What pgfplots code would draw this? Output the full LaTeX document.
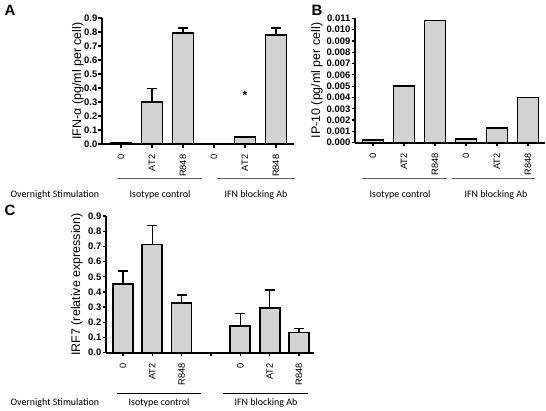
\documentclass[border=0pt]{standalone}
\usepackage{fontspec}
\setmainfont{Liberation Sans}
\newfontfamily\calfont{Carlito}
\usepackage{pgfplots}
\pgfplotsset{compat=1.18}
\definecolor{barfill}{RGB}{210,210,210}
\definecolor{grpline}{RGB}{100,100,100}
\pgfplotsset{
  panel/.style={
    scale only axis, anchor=south west,
    axis x line*=bottom, axis y line*=left,
    axis line style={line width=1.6bp, black},
    every tick/.style={black, line width=1.3bp},
    major tick length=3.5bp,
    tick align=outside,
    ymin=0,
    /pgf/number format/assume math mode=true,
    yticklabel style={font=\bfseries\fontsize{9.5}{10}\selectfont, inner sep=1bp},
    xticklabel style={rotate=90, anchor=east, font=\fontsize{9.3}{10}\selectfont, inner ysep=1bp, inner xsep=7bp},
    ylabel style={font=\fontsize{12.5}{13}\selectfont, anchor=center},
    scaled y ticks=false,
    clip=false,
  },
  barstyle/.style={
    ybar, bar shift=0pt, fill=barfill, draw=black, line width=1.7bp,
    error bars/y dir=plus, error bars/y explicit,
    error bars/error bar style={line width=1.5bp, black},
    error bars/error mark options={rotate=90, mark size=5bp, line width=1.5bp, black},
  },
}
\pgfplotstableread{
x y e
0 0.005 0
1 0.300 0.098
2 0.795 0.035
3 0.003 0
4 0.048 0
5 0.778 0.052
}\dataA
\pgfplotstableread{
x y
0 0.00024
1 0.0050
2 0.0108
3 0.00035
4 0.0013
5 0.0040
}\dataB
\pgfplotstableread{
x y e
0 0.452 0.086
1 0.713 0.125
2 0.329 0.051
4 0.176 0.081
5 0.296 0.117
6 0.134 0.024
}\dataC
\begin{document}
\begin{tikzpicture}
\path[use as bounding box] (0,0) rectangle (546bp,-411bp);
% Panel A
\begin{axis}[panel, at={(102bp,-144bp)}, width=192bp, height=126bp,
  xmin=-0.61, xmax=5.58, ymax=0.9, ytick={0,0.1,...,0.9},
  yticklabel style={/pgf/number format/fixed, /pgf/number format/fixed zerofill, /pgf/number format/precision=1},
  xtick={0,...,5}, xticklabels={0,AT2,R848,0,AT2,R848},
  ylabel={IFN-α (pg/ml per cell)},
  ylabel style={at={(axis description cs:-0.125,0.5)}}]
\addplot[bar width=21bp, barstyle] table[x=x, y=y, y error=e] {\dataA};
\node[font=\bfseries\fontsize{12}{12}\selectfont] at (axis cs:4,0.35) {*};
\end{axis}
% Panel B
\begin{axis}[panel, at={(355bp,-142.7bp)}, width=190bp, height=124.4bp,
  xmin=-0.58, xmax=5.55, ymax=0.011, ytick={0,0.001,...,0.0111},
  yticklabel style={/pgf/number format/fixed, /pgf/number format/fixed zerofill, /pgf/number format/precision=3},
  xtick={0,...,5}, xticklabels={0,AT2,R848,0,AT2,R848},
  ylabel={IP-10 (pg/ml per cell)},
  ylabel style={at={(axis description cs:-0.2,0.5)}}]
\addplot[ybar, bar shift=0pt, fill=barfill, draw=black, line width=1.7bp, bar width=21bp] table[x=x, y=y] {\dataB};
\end{axis}
% Panel C
\begin{axis}[panel, at={(106bp,-352.7bp)}, width=208bp, height=136.7bp,
  xmin=-0.576, xmax=6.51, ymax=0.9, ytick={0,0.1,...,0.9},
  yticklabel style={/pgf/number format/fixed, /pgf/number format/fixed zerofill, /pgf/number format/precision=1},
  xtick={0,...,6}, xticklabels={0,AT2,R848,,0,AT2,R848},
  ylabel={IRF7 (relative expression)},
  ylabel style={at={(axis description cs:-0.14,0.5)}}]
\addplot[bar width=20bp, barstyle] table[x=x, y=y, y error=e] {\dataC};
\end{axis}
% Panel letters
\node[font=\bfseries\fontsize{15}{15}\selectfont] at (10bp,-10bp) {A};
\node[font=\bfseries\fontsize{15}{15}\selectfont] at (317bp,-10bp) {B};
\node[font=\bfseries\fontsize{15}{15}\selectfont] at (10bp,-210bp) {C};
% Group annotations
\begin{scope}[font=\calfont\fontsize{10}{11}\selectfont]
\node[anchor=west] at (7bp,-195bp) {Overnight Stimulation};
\node[anchor=west] at (7bp,-403bp) {Overnight Stimulation};
\draw[grpline, line width=0.9bp] (117bp,-178bp) -- (202bp,-178bp);
\draw[grpline, line width=0.9bp] (217bp,-178bp) -- (295bp,-178bp);
\node at (160bp,-195bp) {Isotype control};
\node at (256bp,-195bp) {IFN blocking Ab};
\draw[grpline, line width=0.9bp] (362bp,-178bp) -- (447bp,-178bp);
\draw[grpline, line width=0.9bp] (452bp,-178bp) -- (535bp,-178bp);
\node at (400bp,-195bp) {Isotype control};
\node at (496bp,-195bp) {IFN blocking Ab};
\draw[black, line width=0.9bp] (117bp,-393bp) -- (201bp,-393bp);
\draw[black, line width=0.9bp] (223bp,-393bp) -- (308bp,-393bp);
\node at (159bp,-403bp) {Isotype control};
\node at (266bp,-403bp) {IFN blocking Ab};
\end{scope}
\end{tikzpicture}
\end{document}
